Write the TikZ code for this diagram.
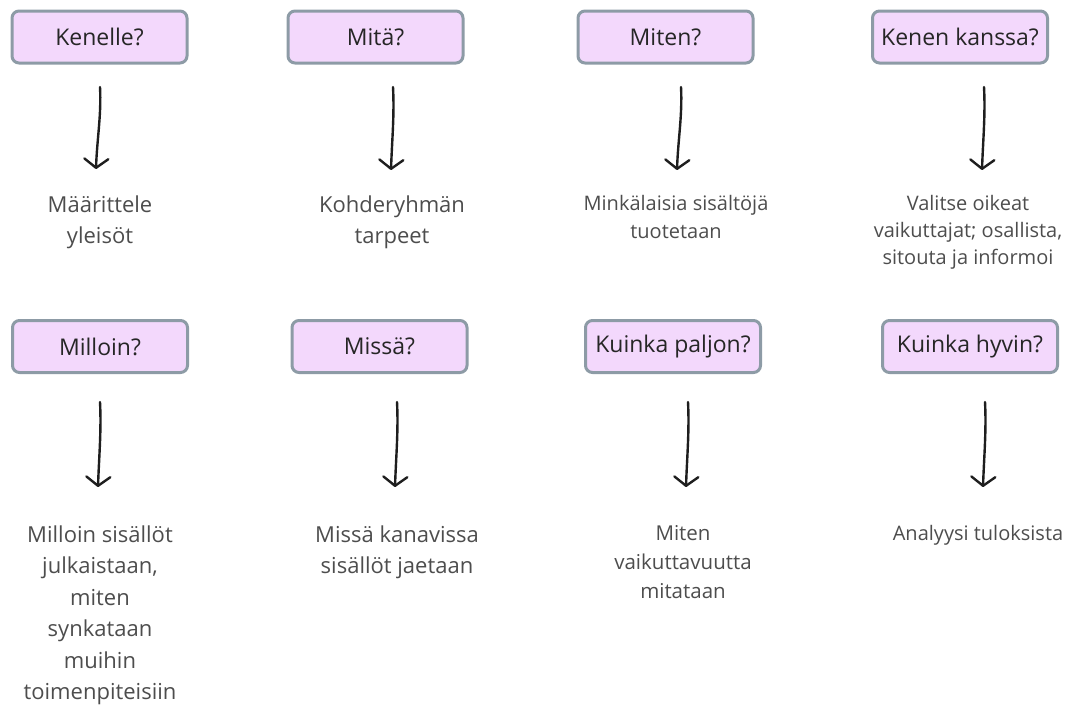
\documentclass[tikz,border=0pt]{standalone}
\usepackage{fontspec}
\setmainfont{Open Sans}
\usetikzlibrary{arrows.meta,calc}

\definecolor{boxfill}{HTML}{F3D8FC}
\definecolor{boxedge}{HTML}{8D9BA6}
\definecolor{labeltext}{HTML}{262626}
\definecolor{bodytext}{HTML}{4D4D4D}
\definecolor{arrowink}{HTML}{1E1E1E}

\begin{document}
\begin{tikzpicture}[x=1pt,y=-1pt,
  question/.style={draw=boxedge, line width=3pt, fill=boxfill, rounded corners=7pt,
    minimum width=175pt, minimum height=52pt, inner sep=0pt, text=labeltext,
    font=\fontsize{23}{28}\selectfont},
  answer/.style={anchor=north, align=center, inner sep=0pt, text=bodytext},
  bigtext/.style={font=\fontsize{22}{31.5}\selectfont},
  midtext/.style={font=\fontsize{20.5}{29}\selectfont},
  smalltext/.style={font=\fontsize{20}{28}\selectfont},
  tighttext/.style={font=\fontsize{20}{27}\selectfont},
  pointer/.style={draw=arrowink, line width=2.4pt, line cap=round, line join=round,
    -{Straight Barb[length=9pt,width=24pt,line width=2.4pt,round]}}
]
\useasboundingbox (0,0) rectangle (1075,710);

% question boxes, top row
\node[question] (q1) at (99.5,37) {Kenelle?};
\node[question] (q2) at (375.5,37) {Mitä?};
\node[question] (q3) at (665.5,37) {Miten?};
\node[question] (q4) at (960,37) {Kenen kanssa?};
% question boxes, bottom row
\node[question] (q5) at (100,346.5) {Milloin?};
\node[question] (q6) at (379.5,346.5) {Missä?};
\node[question] (q7) at (673,346.5) {Kuinka paljon?};
\node[question] (q8) at (970,346.5) {Kuinka hyvin?};

% answers, top row
\node[answer,bigtext] (a1) at (100,190) {\strut Määrittele\\yleisöt};
\node[answer,bigtext] (a2) at (392,190) {\strut Kohderyhmän\\tarpeet};
\node[answer,smalltext] (a3) at (676,190.4) {\strut Minkälaisia sisältöjä\\tuotetaan};
\node[answer,tighttext] (a4) at (968,191.1) {\strut Valitse oikeat\\vaikuttajat; osallista,\\sitouta ja informoi};
% answers, bottom row
\node[answer,bigtext] (a5) at (100,520) {\strut Milloin sisällöt\\julkaistaan,\\miten\\synkataan\\muihin\\toimenpiteisiin};
\node[answer,bigtext] (a6) at (397,520) {\strut Missä kanavissa\\sisällöt jaetaan};
\node[answer,midtext] (a7) at (683,519.7) {\strut Miten\\vaikuttavuutta\\mitataan};
\node[answer,smalltext] (a8) at (978,520.4) {\strut Analyysi tuloksista};

% hand-drawn pointers between each question and its answer
\coordinate (p1s) at (100,87);  \coordinate (p1e) at (96,169);
\coordinate (p2s) at (393,87);  \coordinate (p2e) at (391,170);
\coordinate (p3s) at (681,87);  \coordinate (p3e) at (677,170);
\coordinate (p4s) at (984,87);  \coordinate (p4e) at (982,170);
\coordinate (p5s) at (100,402); \coordinate (p5e) at (98,487);
\coordinate (p6s) at (397,402); \coordinate (p6e) at (395,487);
\coordinate (p7s) at (688,402); \coordinate (p7e) at (686,487);
\coordinate (p8s) at (985,402); \coordinate (p8e) at (983,487);

\foreach \i in {1,...,8}{
  \draw[pointer] (p\i s) .. controls ($(p\i s)+(1.5,28)$) and ($(p\i e)+(1,-30)$) .. (p\i e);
}
\end{tikzpicture}
\end{document}
